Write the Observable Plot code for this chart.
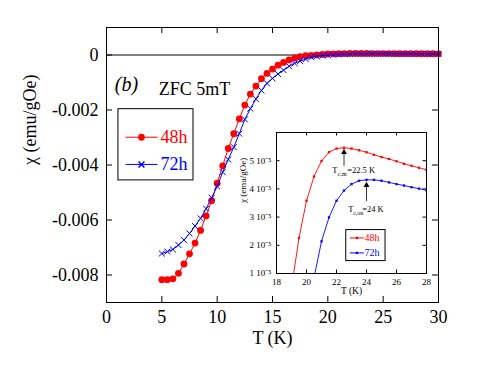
<!DOCTYPE html>
<html><head><meta charset="utf-8">
<script src="https://cdn.jsdelivr.net/npm/d3@7"></script>
<script src="https://cdn.jsdelivr.net/npm/@observablehq/plot@0.6"></script>
<style>
body{margin:0;background:#fff;}
#wrap{position:relative;width:491px;height:368px;overflow:hidden;}
#inset{position:absolute;left:230px;top:120px;}
#wrap svg text{font-family:"Liberation Serif","Times New Roman",serif !important;}
</style></head><body>
<div id="wrap"><div id="main"></div><div id="inset"></div></div>
<script>
// ---- data ----
const temperature = [5,5.5,6,6.5,7,7.5,8,8.5,9,9.5,10,10.5,11,11.5,12,12.5,13,13.5,14,14.5,15,15.5,16,16.5,17,17.5,18,18.5,19,19.5,20,20.5,21,21.5,22,22.5,23,23.5,24,24.5,25,25.5,26,26.5,27,27.5,28,28.5,29,29.5,30];
const chi48h = [-0.00817,-0.00817,-0.00814,-0.00794,-0.00760,-0.00723,-0.00684,-0.00638,-0.00585,-0.00530,
  -0.00466,-0.00403,-0.00340,-0.00286,-0.00232,-0.00182,-0.00142,-0.00113,-0.00086,-0.00067,
  -0.00051,-0.00037,-0.00027,-0.00018,-0.00011,-0.00006,-0.00002,-0.00001,0.0000050,0.0000226,
  0.0000358,0.0000444,0.0000499,0.0000530,0.0000543,0.0000546,0.0000543,0.0000537,0.0000530,0.0000521,
  0.0000513,0.0000506,0.0000498,0.0000489,0.0000482,0.0000475,0.0000468,0.0000461,0.0000454,0.0000447,0.0000440];
const chi72h = [-0.00722,-0.00715,-0.00707,-0.00691,-0.00673,-0.00649,-0.00622,-0.00594,-0.00559,-0.00519,
  -0.00478,-0.00426,-0.00380,-0.00335,-0.00286,-0.00234,-0.00195,-0.00160,-0.00129,-0.00103,
  -0.00085,-0.00069,-0.00055,-0.00041,-0.00030,-0.00022,-0.00015,-0.00008,-0.00005,-0.00002,
  -0.000005,0.0000085,0.0000214,0.0000299,0.0000358,0.0000394,0.0000417,0.0000429,0.0000432,0.0000432,
  0.0000429,0.0000423,0.0000417,0.0000412,0.0000406,0.0000401,0.0000395,0.0000390,0.0000384,0.0000379,0.0000373];
const seriesNames = ["48h", "72h"];
const seriesColors = ["#ff0000", "#0000ff"];
const mainXTicks = [0,5,10,15,20,25,30];
const mainYTicks = [-0.008,-0.006,-0.004,-0.002,0];
const insetXTicks = [18,20,22,24,26,28];
const insetYTicks = [1e-5,2e-5,3e-5,4e-5,5e-5];
const insetYTickLabels = ["1 10\u207B\u2075","2 10\u207B\u2075","3 10\u207B\u2075","4 10\u207B\u2075","5 10\u207B\u2075"];
const onsetLabels = [{T:22.5, sub:"c,m", rest:"=22.5 K"}, {T:24, sub:"c,on", rest:"=24 K"}];

const rows48 = temperature.map((t,i)=>({t, v:chi48h[i]}));
const rows72 = temperature.map((t,i)=>({t, v:chi72h[i]}));
const serif = "Liberation Serif";
const ff = {fontFamily: serif};

// ---- main plot ----
const W=491, H=368, mL=106, mR=53, mT=27, mB=66;
const fw=W-mL-mR, fh=H-mT-mB;
const fmtMain = d => d === 0 ? "0" : d.toFixed(3);

// legend annotation (data units of main plot)
const mLeg = {x1:1.08, x2:7.86, y1:-0.00456, y2:-0.00197, lx1:1.72, lx2:4.61, mx:3.16, tx:4.88, ys:[-0.00299,-0.00398]};
const mLegRows = seriesNames.map((n,i)=>({name:n, color:seriesColors[i], y:mLeg.ys[i]}));

const main = Plot.plot({
  width:W, height:H, marginLeft:mL, marginRight:mR, marginTop:mT, marginBottom:mB,
  style:{"font-family":"'Liberation Serif',serif", "font-size":"18px", "color":"black", "background":"white"},
  x:{domain:[0,30]},
  y:{domain:[-0.009,0.001]},
  marks:[
    Plot.ruleY([0], {stroke:"black", strokeWidth:1}),
    Plot.axisX({ticks:mainXTicks, tickSize:0, tickPadding:8, label:null, fontSize:18, ...ff}),
    Plot.axisY({ticks:mainYTicks, tickSize:0, tickPadding:8, tickFormat:fmtMain, label:null, fontSize:18, ...ff}),
    Plot.tickX(mainXTicks, {x:d=>d, insetTop:fh-6, stroke:"black"}),
    Plot.tickX(mainXTicks, {x:d=>d, insetBottom:fh-6, stroke:"black"}),
    Plot.tickY(mainYTicks, {y:d=>d, insetRight:fw-6, stroke:"black"}),
    Plot.tickY(mainYTicks, {y:d=>d, insetLeft:fw-6, stroke:"black"}),
    Plot.text(["T (K)"], {frameAnchor:"bottom", dy:41, fontSize:18, ...ff}),
    Plot.text(["\u03C7 (emu/gOe)"], {frameAnchor:"left", dx:-76, rotate:-90, fontSize:18, ...ff}),
    Plot.line(rows48, {x:"t", y:"v", stroke:seriesColors[0], strokeWidth:1}),
    Plot.dot(rows48, {x:"t", y:"v", fill:seriesColors[0], r:3.4}),
    Plot.line(rows72, {x:"t", y:"v", stroke:seriesColors[1], strokeWidth:1}),
    Plot.dot(rows72, {x:"t", y:"v", stroke:seriesColors[1], fill:"none", symbol:"times", r:2.8, strokeWidth:1}),
    Plot.text(["(b)"], {x:1.8, y:-0.00106, fontSize:20, fontStyle:"italic", ...ff}),
    Plot.text(["ZFC 5mT"], {x:7.95, y:-0.00124, fontSize:18, ...ff}),
    Plot.rect([mLeg], {x1:"x1", x2:"x2", y1:"y1", y2:"y2", fill:"none", stroke:"black", strokeWidth:1}),
    Plot.link(mLegRows, {x1:mLeg.lx1, x2:mLeg.lx2, y1:"y", y2:"y", stroke:"color", strokeWidth:1}),
    Plot.dot([mLegRows[0]], {x:mLeg.mx, y:"y", fill:"color", r:3.4}),
    Plot.dot([mLegRows[1]], {x:mLeg.mx, y:"y", stroke:"color", fill:"none", symbol:"times", r:2.8}),
    Plot.text(mLegRows, {x:mLeg.tx, y:"y", text:"name", fill:"color", textAnchor:"start", fontSize:18, ...ff}),
    Plot.frame({stroke:"black", strokeWidth:1})
  ]
});
document.getElementById("main").append(main);

// ---- inset ----
const iW=200, iH=185, iL=46, iR=4, iT=12, iB=32;
const ifw=iW-iL-iR, ifh=iH-iT-iB;
const iLeg = {x1:22.65, x2:25.27, y1:1.44e-5, y2:2.54e-5, lx1:22.89, lx2:23.82, mx:23.36, tx:23.87, ys:[2.26e-5,1.73e-5]};
const iLegRows = seriesNames.map((n,i)=>({name:n, color:seriesColors[i], y:iLeg.ys[i]}));
const arrows = [{x:22.5, y1:4.80e-5, y2:5.30e-5}, {x:24, y1:3.55e-5, y2:4.13e-5}];
const labPos = [{tx:21.71, sx:22.09, rx:22.71, y:4.65e-5, sy:4.53e-5},{tx:22.78, sx:23.11, rx:23.71, y:3.29e-5, sy:3.16e-5}];
const labRows = onsetLabels.map((o,i)=>({...o, ...labPos[i]}));

const inset = Plot.plot({
  width:iW, height:iH, marginLeft:iL, marginRight:iR, marginTop:iT, marginBottom:iB,
  style:{"font-family":"'Liberation Serif',serif", "font-size":"9px", "color":"black", "background":"transparent", "overflow":"visible"},
  x:{domain:[18,28]},
  y:{domain:[1e-5,6e-5]},
  marks:[
    Plot.axisX({ticks:insetXTicks, tickSize:0, tickPadding:5, label:null, fontSize:9, ...ff}),
    Plot.axisY({ticks:insetYTicks, tickSize:0, tickPadding:5, label:null, fontSize:9, ...ff,
      tickFormat:d=>insetYTickLabels[insetYTicks.indexOf(d)]}),
    Plot.tickX(insetXTicks, {x:d=>d, insetTop:ifh-3.5, stroke:"black"}),
    Plot.tickX(insetXTicks, {x:d=>d, insetBottom:ifh-3.5, stroke:"black"}),
    Plot.tickY(insetYTicks, {y:d=>d, insetRight:ifw-3.5, stroke:"black"}),
    Plot.tickY(insetYTicks, {y:d=>d, insetLeft:ifw-3.5, stroke:"black"}),
    Plot.text(["T (K)"], {frameAnchor:"bottom", dy:20, fontSize:9.5, ...ff}),
    Plot.text(["\u03C7 (emu/gOe)"], {frameAnchor:"left", dx:-33, rotate:-90, fontSize:9, ...ff}),
    Plot.line(rows48, {x:"t", y:"v", stroke:seriesColors[0], strokeWidth:0.9, clip:true}),
    Plot.dot(rows48, {x:"t", y:"v", fill:seriesColors[0], symbol:"square", r:1.3, clip:true}),
    Plot.line(rows72, {x:"t", y:"v", stroke:seriesColors[1], strokeWidth:0.9, clip:true}),
    Plot.dot(rows72, {x:"t", y:"v", fill:seriesColors[1], symbol:"square", r:1.3, clip:true}),
    Plot.ruleX(arrows, {x:"x", y1:"y1", y2:"y2", stroke:"black", strokeWidth:0.8}),
    Plot.dot(arrows, {x:"x", y:"y2", symbol:"triangle", fill:"black", r:2.2}),
    Plot.text(labRows, {x:"tx", y:"y", text:()=>"T", textAnchor:"start", fontSize:8.5, ...ff}),
    Plot.text(labRows, {x:"sx", y:"sy", text:"sub", textAnchor:"start", fontSize:6, ...ff}),
    Plot.text(labRows, {x:"rx", y:"y", text:"rest", textAnchor:"start", fontSize:8.5, ...ff}),
    Plot.rect([iLeg], {x1:"x1", x2:"x2", y1:"y1", y2:"y2", fill:"none", stroke:"black", strokeWidth:1}),
    Plot.link(iLegRows, {x1:iLeg.lx1, x2:iLeg.lx2, y1:"y", y2:"y", stroke:"color", strokeWidth:1}),
    Plot.dot(iLegRows, {x:iLeg.mx, y:"y", fill:"color", symbol:"square", r:1.3}),
    Plot.text(iLegRows, {x:iLeg.tx, y:"y", text:"name", fill:"color", textAnchor:"start", fontSize:10, ...ff}),
    Plot.frame({stroke:"black", strokeWidth:1})
  ]
});
document.getElementById("inset").append(inset);
</script>
</body></html>
